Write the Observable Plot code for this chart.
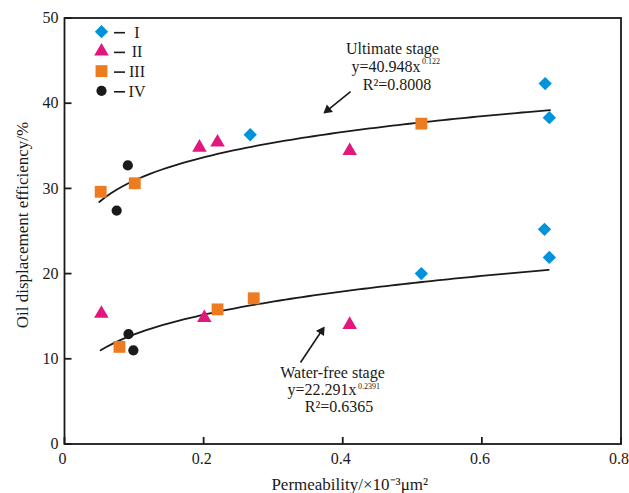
<!DOCTYPE html>
<html>
<head>
<meta charset="utf-8">
<script src="https://cdn.jsdelivr.net/npm/d3@7"></script>
<script src="https://cdn.jsdelivr.net/npm/@observablehq/plot@0.6"></script>
<style>
  body { margin: 0; background: #fff; }
  #chart { width: 629px; height: 493px; }
</style>
</head>
<body>
<div id="chart"></div>
<script>
// ---- data ----
const groups = ["I", "II", "III", "IV"];
const groupColors = ["#0092db", "#e3167e", "#ed7c20", "#1a1a1a"];

// Ultimate stage samples
const ultPerm  = [0.267, 0.691, 0.697, 0.194, 0.220, 0.410, 0.052, 0.101, 0.513, 0.091, 0.075];
const ultEff   = [36.3, 42.3, 38.3, 34.8, 35.4, 34.4, 29.6, 30.6, 37.6, 32.7, 27.4];
const ultGroup = ["I", "I", "I", "II", "II", "II", "III", "III", "III", "IV", "IV"];

// Water-free stage samples
const wfPerm  = [0.513, 0.690, 0.697, 0.053, 0.201, 0.410, 0.079, 0.220, 0.272, 0.092, 0.099];
const wfEff   = [20.0, 25.2, 21.9, 15.3, 14.8, 14.0, 11.4, 15.8, 17.1, 12.9, 11.0];
const wfGroup = ["I", "I", "I", "II", "II", "II", "III", "III", "III", "IV", "IV"];

// Power-law fits shown on the chart: y = a * x^b
const fitNames = ["Ultimate stage", "Water-free stage"];
const fitCoef  = [40.948, 22.291];
const fitExp   = [0.122, 0.2391];
const fitExpLabel = ["0.122", "0.2391"];
const fitR2    = ["0.8008", "0.6365"];
const fitFrom  = [0.050, 0.052];
const fitTo    = [0.698, 0.696];

const xTicks = [0, 0.2, 0.4, 0.6, 0.8];
const yTicks = [0, 10, 20, 30, 40, 50];

const xLabel = "Permeability/×10⁻³μm²";
const yLabel = "Oil displacement efficiency/%";

// ---- layout ----
const W = 629, H = 493;
const mL = 64, mR = 8.5, mT = 17.5, mB = 49.5;
const xDomain = [0, 0.8], yDomain = [0, 50];
const tickPx = 7;
const xPerPx = (xDomain[1] - xDomain[0]) / (W - mL - mR);
const yPerPx = (yDomain[1] - yDomain[0]) / (H - mT - mB);

// ---- build tables ----
const points = [
  ...ultPerm.map((p, i) => ({perm: p, eff: ultEff[i], group: ultGroup[i]})),
  ...wfPerm.map((p, i) => ({perm: p, eff: wfEff[i], group: wfGroup[i]}))
];
const curves = fitNames.flatMap((name, k) => {
  const n = 80;
  return d3.range(n + 1).map(i => {
    const x = fitFrom[k] + (fitTo[k] - fitFrom[k]) * i / n;
    return {name, x, y: fitCoef[k] * Math.pow(x, fitExp[k])};
  });
});
const xTickRows = xTicks.map(t => ({t, a: yDomain[0], b: yDomain[0] + tickPx * yPerPx}));
const yTickRows = yTicks.map(t => ({t, a: xDomain[0], b: xDomain[0] + tickPx * xPerPx}));

const symbolOf = {I: "diamond2", II: "triangle", III: "square", IV: "circle"};
const rOf = {I: 6.0, II: 5.4, III: 6.7, IV: 5.1};
const colorOf = Object.fromEntries(groups.map((g, i) => [g, groupColors[i]]));

const font = "'Liberation Serif', 'Times New Roman', serif";
const ink = "#1a1a1a";

const dotMarks = groups.map(g => Plot.dot(points.filter(d => d.group === g), {
  x: "perm", y: "eff", symbol: symbolOf[g], r: rOf[g], fill: colorOf[g], stroke: "none"
}));

const chart = Plot.plot({
  width: W,
  height: H,
  marginLeft: mL,
  marginRight: mR,
  marginTop: mT,
  marginBottom: mB,
  style: {fontFamily: font, fontSize: "16px", color: ink, background: "#fff", overflow: "visible"},
  x: {domain: xDomain, label: null},
  y: {domain: yDomain, label: null},
  marks: [
    Plot.axisX(xTicks, {tickSize: 0, tickPadding: 9, dx: -2, fontSize: 16, tickFormat: d => String(d), label: null}),
    Plot.axisY(yTicks, {tickSize: 0, tickPadding: 6, fontSize: 16, tickFormat: d => String(d), label: null}),
    Plot.frame({stroke: ink, fill: "none", strokeWidth: 1.8}),
    // inward ticks
    Plot.link(xTickRows, {x1: "t", x2: "t", y1: "a", y2: "b", stroke: ink, strokeWidth: 1.8}),
    Plot.link(yTickRows, {y1: "t", y2: "t", x1: "a", x2: "b", stroke: ink, strokeWidth: 1.8}),
    Plot.line(curves, {x: "x", y: "y", z: "name", stroke: ink, strokeWidth: 1.8}),
    ...dotMarks,
    // annotation: ultimate stage
    Plot.text([fitNames[0]], {x: 0.4715, y: 45.72, text: d => d, textAnchor: "middle", lineAnchor: "bottom", fontSize: 16, fill: ink}),
    Plot.text([`y=${fitCoef[0]}x`], {x: 0.5118, y: 45.72, dy: 18, text: d => d, textAnchor: "end", lineAnchor: "bottom", fontSize: 16, fill: ink}),
    Plot.text([fitExpLabel[0]], {x: 0.5118, y: 45.72, dx: 1.5, dy: 10, text: d => d, textAnchor: "start", lineAnchor: "bottom", fontSize: 8, fill: ink}),
    Plot.text([`R²=${fitR2[0]}`], {x: 0.478, y: 45.72, dy: 36, text: d => d, textAnchor: "middle", lineAnchor: "bottom", fontSize: 16, fill: ink}),
    // annotation: water-free stage
    Plot.text([fitNames[1]], {x: 0.3853, y: 7.69, text: d => d, textAnchor: "middle", lineAnchor: "bottom", fontSize: 16, fill: ink}),
    Plot.text([`y=${fitCoef[1]}x`], {x: 0.4198, y: 7.69, dy: 17, text: d => d, textAnchor: "end", lineAnchor: "bottom", fontSize: 16, fill: ink}),
    Plot.text([fitExpLabel[1]], {x: 0.4198, y: 7.69, dx: 1.5, dy: 11, text: d => d, textAnchor: "start", lineAnchor: "bottom", fontSize: 8, fill: ink}),
    Plot.text([`R²=${fitR2[1]}`], {x: 0.3946, y: 7.69, dy: 34, text: d => d, textAnchor: "middle", lineAnchor: "bottom", fontSize: 16, fill: ink}),
    // arrows: shafts + filled heads
    Plot.link([0], {x1: 0.4112, y1: 41.37, x2: 0.3784, y2: 39.19, stroke: ink, strokeWidth: 1.6}),
    Plot.dot([0], {x: 0.3784, y: 39.19, symbol: "triangle", r: 3.6, rotate: 231, fill: ink, stroke: "none"}),
    Plot.link([0], {x1: 0.3393, y1: 9.57, x2: 0.3695, y2: 13.26, stroke: ink, strokeWidth: 1.6}),
    Plot.dot([0], {x: 0.3695, y: 13.26, symbol: "triangle", r: 3.6, rotate: 34, fill: ink, stroke: "none"}),
    // axis titles
    Plot.text([xLabel], {frameAnchor: "bottom", dx: 7, dy: 45.5, text: d => d, textAnchor: "middle", lineAnchor: "bottom", fontSize: 17, fill: ink}),
    Plot.text([yLabel], {frameAnchor: "left", dx: -42, dy: -6, rotate: -90, text: d => d, textAnchor: "middle", lineAnchor: "middle", fontSize: 17, fill: ink})
  ]
});

// ---- legend (inside plot, top-left) ----
const svg = d3.select(chart);
const legend = svg.append("g").attr("font-family", font).attr("font-size", 16).attr("fill", ink);
const d3Sym = {I: d3.symbolDiamond2, II: d3.symbolTriangle, III: d3.symbolSquare, IV: d3.symbolCircle};
groups.forEach((g, i) => {
  const cy = 31.7 + i * 19.7;
  const r = rOf[g];
  legend.append("path")
    .attr("transform", `translate(101.5,${cy})`)
    .attr("d", d3.symbol(d3Sym[g], r * r * Math.PI)())
    .attr("fill", colorOf[g]);
  legend.append("line")
    .attr("x1", 114).attr("x2", 125).attr("y1", cy + 1).attr("y2", cy + 1)
    .attr("stroke", ink).attr("stroke-width", 1.6);
  legend.append("text")
    .attr("x", 137).attr("y", cy + 6).attr("text-anchor", "middle")
    .text(g);
});

document.getElementById("chart").appendChild(chart);
</script>
</body>
</html>
